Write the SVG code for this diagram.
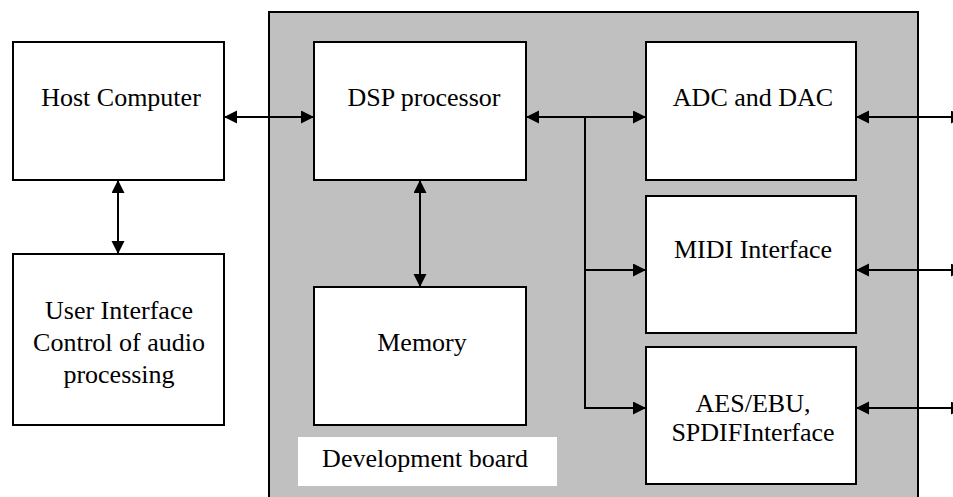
<svg xmlns="http://www.w3.org/2000/svg" width="953" height="497" viewBox="0 0 953 497">
<style>
.box{fill:#ffffff;stroke:#000000;stroke-width:2}
.board{fill:#c0c0c0;stroke:#000000;stroke-width:2}
.lbl{font-family:"Liberation Serif","Times New Roman",serif;font-size:26px;fill:#000000;text-anchor:middle}
.conn{fill:none;stroke:#000000;stroke-width:2}
</style>
<defs>
<marker id="arr" markerUnits="userSpaceOnUse" markerWidth="14" markerHeight="14" refX="13" refY="6.5" orient="auto-start-reverse" viewBox="0 0 14 14">
<path d="M0,0 L13,6.5 L0,13 z" fill="#000000"/>
</marker>
</defs>
<rect width="953" height="497" fill="#ffffff"/>
<g id="board">
<rect class="board" x="269" y="12" width="649" height="500"/>
<rect x="298" y="437" width="259" height="49" fill="#ffffff"/>
<text class="lbl" x="425" y="467">Development board</text>
</g>
<g id="host">
<rect class="box" x="13" y="42" width="211" height="138"/>
<text class="lbl" x="121" y="106">Host Computer</text>
</g>
<g id="ui">
<rect class="box" x="13" y="254" width="211" height="171"/>
<text class="lbl" x="119" y="319">User Interface</text>
<text class="lbl" x="119" y="351">Control of audio</text>
<text class="lbl" x="119" y="383">processing</text>
</g>
<g id="dsp">
<rect class="box" x="314" y="42" width="212" height="138"/>
<text class="lbl" x="424" y="106">DSP processor</text>
</g>
<g id="memory">
<rect class="box" x="314" y="287" width="212" height="138"/>
<text class="lbl" x="422" y="351">Memory</text>
</g>
<g id="adc">
<rect class="box" x="646" y="42" width="210" height="138"/>
<text class="lbl" x="753" y="106">ADC and DAC</text>
</g>
<g id="midi">
<rect class="box" x="646" y="196" width="210" height="137"/>
<text class="lbl" x="753" y="258">MIDI Interface</text>
</g>
<g id="aes">
<rect class="box" x="646" y="347" width="210" height="137"/>
<text class="lbl" x="753" y="412">AES/EBU,</text>
<text class="lbl" x="753" y="441">SPDIFInterface</text>
</g>
<g id="connectors">
<path class="conn" d="M224,117 H314" marker-start="url(#arr)" marker-end="url(#arr)"/>
<path class="conn" d="M118,180 V254" marker-start="url(#arr)" marker-end="url(#arr)"/>
<path class="conn" d="M420,180 V287" marker-start="url(#arr)" marker-end="url(#arr)"/>
<path class="conn" d="M526,117 H646" marker-start="url(#arr)" marker-end="url(#arr)"/>
<path class="conn" d="M585,117 V408 H646" marker-end="url(#arr)"/>
<path class="conn" d="M585,270 H646" marker-end="url(#arr)"/>
<path class="conn" d="M856,117 H964" marker-start="url(#arr)" marker-end="url(#arr)"/>
<path class="conn" d="M856,270 H964" marker-start="url(#arr)" marker-end="url(#arr)"/>
<path class="conn" d="M856,408 H964" marker-start="url(#arr)" marker-end="url(#arr)"/>
</g>
</svg>
